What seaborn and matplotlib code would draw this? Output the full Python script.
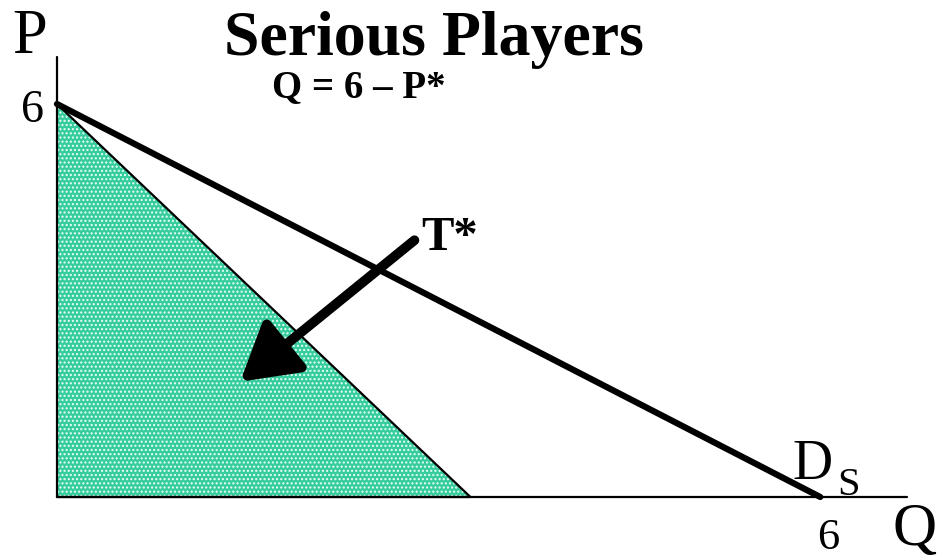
import seaborn as sns
import pandas as pd
import matplotlib.pyplot as plt

# demand curve Q = 6 - P (serious players)
demand_q = [0, 6]
demand_p = [6, 0]
# shaded T* region
tri_q = [0, 0, 3.25]
tri_p = [0, 6, 0]
# arrow from label into shaded area
arrow_from = (2.81, 3.92)
arrow_to = (1.44, 1.76)

sns.set_style('white')
plt.rcParams['font.family'] = ['Liberation Serif', 'DejaVu Serif']
plt.rcParams['text.color'] = 'black'

fig = plt.figure(figsize=(9.43, 5.6), dpi=100)
ax = fig.add_axes([0, 0, 1, 1])
ax.set_xlim(-0.448, 6.965)
ax.set_ylim(-0.962, 7.588)

# shaded triangle with speckled fill
ax.fill(tri_q, tri_p, facecolor='#36cc9e', edgecolor='#e8fff6', hatch='....', lw=0, zorder=1)
ax.plot(tri_q[1:], tri_p[1:], color='black', lw=1.6, zorder=2)
ax.plot([tri_q[0], tri_q[2]], [0, 0], color='black', lw=1.6, zorder=2)

# axes
ax.plot([0, 0], [0, 6.72], color='black', lw=1.6, zorder=3)
ax.plot([0, 6.68], [0, 0], color='black', lw=1.6, zorder=3)

# demand line
df = pd.DataFrame({'Q': demand_q, 'P': demand_p})
sns.lineplot(data=df, x='Q', y='P', color='black', lw=4.5, ax=ax, zorder=4)
ax.axis('off')

# arrow
ax.annotate('', xy=arrow_to, xytext=arrow_from,
            arrowprops=dict(arrowstyle='-|>,head_length=1.7,head_width=1.0',
                            lw=7, color='black', shrinkA=0, shrinkB=0,
                            mutation_scale=20), zorder=5)

ax.text(2.96, 6.75, 'Serious Players', ha='center', va='baseline',
        fontsize=46, fontweight='bold')
ax.text(2.37, 6.11, 'Q = 6 \u2013 P*', ha='center', va='baseline',
        fontsize=28, fontweight='bold')
ax.text(2.86, 3.77, 'T*', ha='left', va='baseline', fontsize=35, fontweight='bold')
ax.text(-0.354, 6.78, 'P', ha='left', va='baseline', fontsize=45)
ax.text(-0.19, 5.73, '6', ha='center', va='baseline', fontsize=33)
ax.text(6.06, -0.80, '6', ha='center', va='baseline', fontsize=32)
ax.text(6.57, -0.74, 'Q', ha='left', va='baseline', fontsize=44)
ax.text(5.78, 0.275, 'D', ha='left', va='baseline', fontsize=40)
ax.text(6.13, 0.03, 'S', ha='left', va='baseline', fontsize=29)

fig.savefig('out.png', dpi=100)
